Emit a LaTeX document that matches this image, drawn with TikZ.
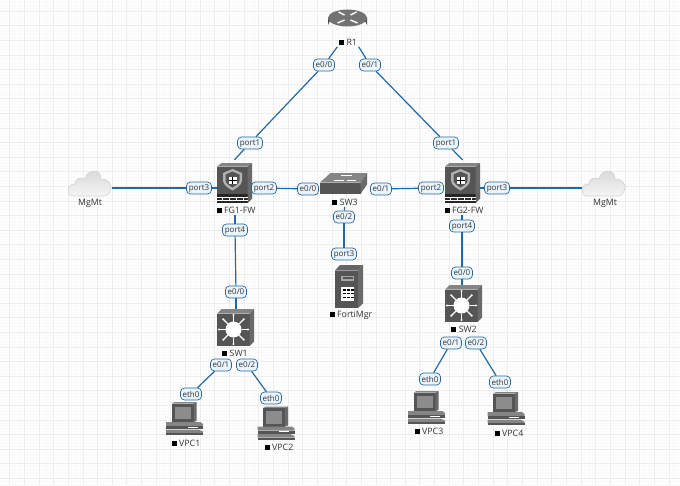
\documentclass[tikz,border=0pt]{standalone}
\usepackage{fontspec}
\setmainfont{Open Sans}
\definecolor{linkblue}{HTML}{2468A2}
\definecolor{labelfill}{HTML}{EAF4FB}
\definecolor{iconfront}{HTML}{555555}
\definecolor{icontop}{HTML}{858585}
\definecolor{iconside}{HTML}{6A6A6A}
\definecolor{textgray}{HTML}{333333}
\newcommand{\NameSquare}{\textcolor{black}{\rule{5pt}{5pt}}\hspace{2.5pt}}
\tikzset{
	link/.style={draw=linkblue,line width=1.2pt},
	iflabel/.style={draw=linkblue,line width=0.7pt,fill=labelfill,rounded corners=4pt,
		font=\fontsize{8}{9}\selectfont,text=textgray,inner sep=0pt,
		minimum height=12pt,text depth=0pt},
	devname/.style={font=\fontsize{8.8}{10}\selectfont,text=textgray,inner sep=1.5pt},
	devbox/.style={inner sep=0pt},
	pics/router/.style={code={
		\fill[black!70] (-19.5,-4) -- (-19.5,4) arc[x radius=19.5,y radius=8,start angle=180,end angle=360] -- (19.5,-4) -- cycle;
		\fill[black!55] (0,-3) ellipse[x radius=19.5,y radius=8.5];
		\draw[white,line width=1.4pt] (-3,-6) -- (-9,-9) (3,-6) -- (9,-9) (-3,-1) -- (-10,2) (3,-1) -- (10,2);
	}},
	pics/firewall/.style={code={
		\fill[icontop] (-17.5,-15) -- (-13,-18.5) -- (17.5,-18.5) -- (13,-15) -- cycle;
		\fill[iconfront] (-17.5,-15) rectangle (13,21.5);
		\fill[iconside] (13,-15) -- (17.5,-18.5) -- (17.5,17) -- (13,21.5) -- cycle;
		\fill[black!85] (-17.5,12.5) rectangle (13,21.5);
		\fill[black!60] (13,12.5) -- (17.5,8.5) -- (17.5,17) -- (13,21.5) -- cycle;
		\draw[white,line width=0.4pt] (-17.5,15.5) -- (13,15.5) (-17.5,18.5) -- (13,18.5);
		\foreach \bx in {-12,-5,2,9} {\draw[white,line width=0.4pt] (\bx,15.5) -- (\bx,18.5);}
		\fill[black!30] (-11.5,-8.5) -- (-2,-12.5) -- (7.5,-8.5) -- (7.5,-1) .. controls (7.5,4) and (1,7) .. (-2,9) .. controls (-5,7) and (-11.5,4) .. (-11.5,-1) -- cycle;
		\fill[iconfront] (-9,-7) -- (-2,-10) -- (5,-7) -- (5,-1) .. controls (5,2) and (0,5) .. (-2,6) .. controls (-4,5) and (-9,2) .. (-9,-1) -- cycle;
		\fill[white] (-6,-4.5) rectangle (2,2);
		\draw[black,line width=0.7pt] (-6,-1.2) -- (2,-1.2) (-2,-4.5) -- (-2,2);
	}},
	pics/flatswitch/.style={code={
		\fill[icontop] (-23.5,-1) -- (-13,-10.5) -- (23.5,-10.5) -- (17,-1) -- cycle;
		\fill[iconfront] (-23.5,-1) rectangle (17,10.5);
		\fill[iconside] (17,-1) -- (23.5,-10.5) -- (23.5,1) -- (17,10.5) -- cycle;
		\draw[white,line width=0.9pt] (-10,-3.5) -- (0,-3.5) (-3,-8) -- (8,-8) (3,-3.5) -- (12,-3.5);
	}},
	pics/layerswitch/.style={code={
		\fill[icontop] (-18.5,-14) -- (-14,-18.5) -- (18.5,-18.5) -- (14,-14) -- cycle;
		\fill[iconfront] (-18.5,-14) rectangle (14,18.5);
		\fill[iconside] (14,-14) -- (18.5,-18.5) -- (18.5,14) -- (14,18.5) -- cycle;
		\foreach \ang in {0,45,...,315} {
			\draw[white,line width=1.2pt] (-2,2) ++(\ang:8) -- ++(\ang:6);
			\fill[white] (-2,2) ++(\ang:14.5) circle[radius=1.2];
		}
		\fill[white] (-2,2) circle[radius=8];
	}},
	pics/tower/.style={code={
		\fill[icontop!75!black] (-14,-16) -- (-9,-21.5) -- (14,-21.5) -- (9,-16) -- cycle;
		\fill[iconfront] (-14,-16) rectangle (9,21.5);
		\fill[iconside] (9,-16) -- (14,-21.5) -- (14,17) -- (9,21.5) -- cycle;
		\fill[black!35] (-8,-11) rectangle (5,-6);
		\fill[iconfront] (-6.5,-9.5) rectangle (3.5,-7.5);
		\fill[white] (-8,0) rectangle (5,14);
		\foreach \kx in {-6,-2,2} {\foreach \ky in {2.5,6,10} {\fill[black] (\kx,\ky) rectangle ++(2.6,1.5);}}
	}},
	pics/vpc/.style={code={
		\fill[icontop] (-13,-15.5) -- (-10,-17) -- (12,-17) -- (9,-15.5) -- cycle;
		\fill[iconfront] (-13,-15.5) rectangle (9,3);
		\fill[iconside] (9,-15.5) -- (12,-17) -- (12,2) -- (9,3) -- cycle;
		\fill[black!45] (-10,-12.5) rectangle (6,0);
		\fill[icontop] (-18.5,3) -- (16,3) -- (18.5,5) -- (18.5,7) -- (-18.5,7) -- cycle;
		\fill[iconfront] (-18.5,7) rectangle (18.5,10);
		\fill[white] (3,7.7) rectangle (13,8.7);
		\fill[icontop] (-18.5,10.5) -- (14,10.5) -- (18.5,12.5) -- (18.5,14) -- (-18.5,14) -- cycle;
		\fill[iconfront] (-18.5,14) rectangle (18.5,16);
	}},
	pics/cloud/.style={code={
		\path[draw=black!18,line width=0.6pt,top color=black!16,bottom color=black!4]
			(-17,13) .. controls (-24,13) and (-24,1) .. (-15,1)
			.. controls (-15,-5) and (-9,-6) .. (-5,-4)
			.. controls (-3,-14) and (11,-15) .. (11,-4)
			.. controls (17,-5) and (24,2) .. (20,8)
			.. controls (19,12) and (15,13) .. (13,13) -- cycle;
	}},
}

\begin{document}
\begin{tikzpicture}[x=1pt,y=-1pt]
	\useasboundingbox (0,0) rectangle (680,485);
	\fill[white] (0,0) rectangle (680,485);

	% background grid
	\foreach \gx in {0,...,232} {\draw[black!2,line width=0.3pt] ({0.7+2.93*\gx},0) -- ({0.7+2.93*\gx},485);}
	\foreach \gy in {0,...,165} {\draw[black!2,line width=0.3pt] (0,{2.2+2.92*\gy}) -- (680,{2.2+2.92*\gy});}
	\foreach \gx in {0,...,46} {\draw[black!7,line width=0.5pt] ({9.5+14.65*\gx},0) -- ({9.5+14.65*\gx},485);}
	\foreach \gy in {0,...,33} {\draw[black!7,line width=0.5pt] (0,{11+14.6*\gy}) -- (680,{11+14.6*\gy});}

	% devices
	\node[devbox,minimum width=40pt,minimum height=24pt] (r1) at (347.5,21) {};
	\node[devbox,minimum width=35pt,minimum height=43pt] (fg1) at (234.5,181.5) {};
	\node[devbox,minimum width=35pt,minimum height=43pt] (fg2) at (462.5,181.5) {};
	\node[devbox,minimum width=47pt,minimum height=21pt] (sw3) at (343.5,183.5) {};
	\node[devbox,minimum width=37pt,minimum height=37pt] (sw1) at (235.5,327.5) {};
	\node[devbox,minimum width=37pt,minimum height=37pt] (sw2) at (463.5,303.5) {};
	\node[devbox,minimum width=28pt,minimum height=45pt] (fmgr) at (349,286.5) {};
	\node[devbox,minimum width=44pt,minimum height=26pt] (cloudl) at (90,183) {};
	\node[devbox,minimum width=44pt,minimum height=26pt] (cloudr) at (604,183) {};
	\node[devbox,minimum width=37pt,minimum height=34pt] (vpc1) at (184.5,419) {};
	\node[devbox,minimum width=37pt,minimum height=34pt] (vpc2) at (276,423.5) {};
	\node[devbox,minimum width=37pt,minimum height=34pt] (vpc3) at (426.5,408) {};
	\node[devbox,minimum width=37pt,minimum height=34pt] (vpc4) at (506,409) {};

	\pic at (r1) {router};
	\pic at (fg1) {firewall};
	\pic at (fg2) {firewall};
	\pic at (sw3) {flatswitch};
	\pic at (sw1) {layerswitch};
	\pic at (sw2) {layerswitch};
	\pic at (fmgr) {tower};
	\pic at (cloudl) {cloud};
	\pic at (cloudr) {cloud};
	\pic at (vpc1) {vpc};
	\pic at (vpc2) {vpc};
	\pic at (vpc3) {vpc};
	\pic at (vpc4) {vpc};

	% device names
	\node[devname] (r1name) at (348,42) {\NameSquare R1};
	\node[devname] (fg1name) at (236,210) {\NameSquare FG1-FW};
	\node[devname] (fg2name) at (464,210) {\NameSquare FG2-FW};
	\node[devname] (sw3name) at (345,202) {\NameSquare SW3};
	\node[devname] (sw1name) at (235,353) {\NameSquare SW1};
	\node[devname] (sw2name) at (464,329) {\NameSquare SW2};
	\node[devname] (fmgrname) at (351,315) {\NameSquare FortiMgr};
	\node[devname] (vpc1name) at (186,443) {\NameSquare VPC1};
	\node[devname] (vpc2name) at (279,447) {\NameSquare VPC2};
	\node[devname] (vpc3name) at (429,431) {\NameSquare VPC3};
	\node[devname] (vpc4name) at (509,433) {\NameSquare VPC4};
	\node[devname] (cloudlname) at (90,203) {MgMt};
	\node[devname] (cloudrname) at (605,203) {MgMt};

	% interface labels
	\node[iflabel,minimum width=21pt] (r1e0) at (324,65) {e0/0};
	\node[iflabel,minimum width=21pt] (r1e1) at (370,65) {e0/1};
	\node[iflabel,minimum width=25pt] (fg1p1) at (250,143) {port1};
	\node[iflabel,minimum width=25pt] (fg2p1) at (446,143) {port1};
	\node[iflabel,minimum width=25pt] (fg1p3) at (199,188) {port3};
	\node[iflabel,minimum width=25pt] (fg1p2) at (264,188) {port2};
	\node[iflabel,minimum width=21pt] (sw3e0) at (308,189) {e0/0};
	\node[iflabel,minimum width=21pt] (sw3e1) at (381,189) {e0/1};
	\node[iflabel,minimum width=25pt] (fg2p2) at (431,188) {port2};
	\node[iflabel,minimum width=25pt] (fg2p3) at (497,188) {port3};
	\node[iflabel,minimum width=25pt] (fg1p4) at (235,230) {port4};
	\node[iflabel,minimum width=25pt] (fg2p4) at (462,226) {port4};
	\node[iflabel,minimum width=21pt] (sw3e2) at (344,217) {e0/2};
	\node[iflabel,minimum width=25pt] (fmgrp3) at (344,254) {port3};
	\node[iflabel,minimum width=21pt] (sw1e0) at (236,292) {e0/0};
	\node[iflabel,minimum width=21pt] (sw2e0) at (462,273) {e0/0};
	\node[iflabel,minimum width=21pt] (sw1e1) at (221,365) {e0/1};
	\node[iflabel,minimum width=21pt] (sw1e2) at (247,365) {e0/2};
	\node[iflabel,minimum width=21pt] (sw2e1) at (451,343) {e0/1};
	\node[iflabel,minimum width=21pt] (sw2e2) at (476,343) {e0/2};
	\node[iflabel,minimum width=21pt] (vpc1e) at (191,394) {eth0};
	\node[iflabel,minimum width=21pt] (vpc2e) at (271,398) {eth0};
	\node[iflabel,minimum width=21pt] (vpc3e) at (430,379) {eth0};
	\node[iflabel,minimum width=21pt] (vpc4e) at (500,382) {eth0};

	% links
	\draw[link] (r1name.south west) -- (r1e0);
	\draw[link] (r1e0) -- (fg1p1);
	\draw[link] (fg1p1) -- (fg1.north);
	\draw[link] (r1name.south east) -- (r1e1);
	\draw[link] (r1e1) -- (fg2p1);
	\draw[link] (fg2p1) -- (fg2.north);

	\draw[link] (cloudl.east |- fg1p3) -- (fg1p3);
	\draw[link] (fg1p3) -- (fg1.west |- fg1p3);
	\draw[link] (cloudr.west |- fg2p3) -- (fg2p3);
	\draw[link] (fg2p3) -- (fg2.east |- fg2p3);

	\draw[link] (fg1p2) -- (sw3e0);
	\draw[link] (sw3e1) -- (fg2p2);

	\draw[link] (sw3name) -- (sw3e2);
	\draw[link] (sw3e2) -- (fmgrp3);

	\draw[link] (fg1name.south -| fg1p4) -- (fg1p4);
	\draw[link] (fg1p4) -- (sw1e0);
	\draw[link] (sw1e0) -- (sw1.north -| sw1e0);
	\draw[link] (fg2name.south -| fg2p4) -- (fg2p4);
	\draw[link] (fg2p4) -- (sw2e0);
	\draw[link] (sw2e0) -- (sw2.north -| sw2e0);

	\draw[link] (sw1e1) -- (vpc1e);
	\draw[link] (sw1e2) -- (vpc2e);
	\draw[link] (sw2e1) -- (vpc3e);
	\draw[link] (sw2e2) -- (vpc4e);
\end{tikzpicture}
\end{document}
